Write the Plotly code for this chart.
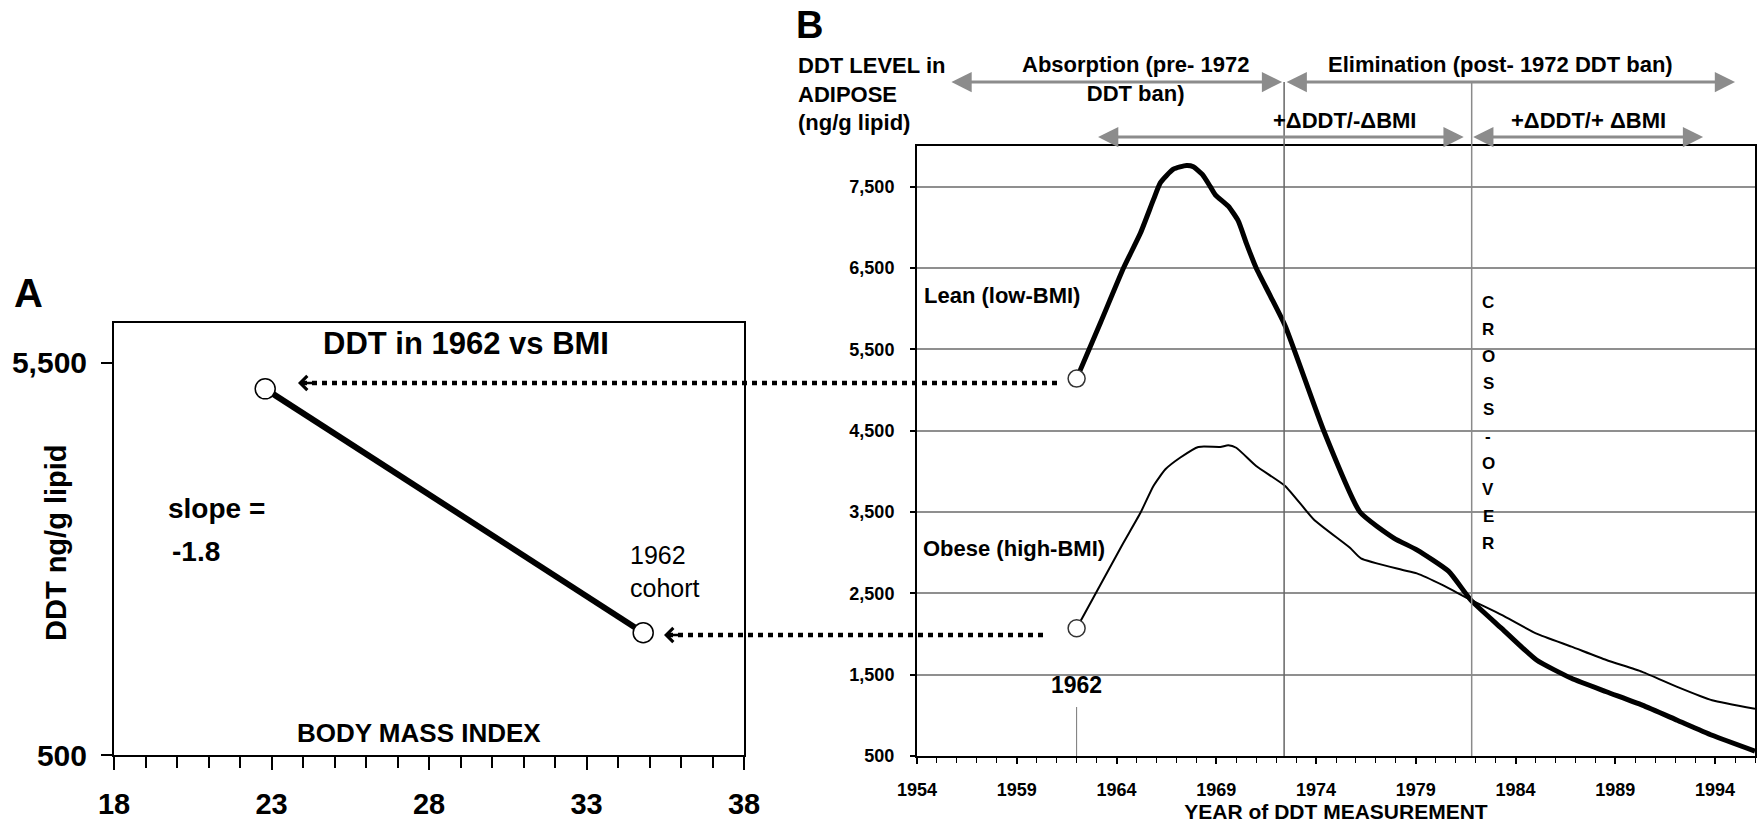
import plotly.graph_objects as go

W, H = 1760, 825
FONT = "Liberation Sans, Arial, Helvetica, sans-serif"

# ---- Panel A: DDT measured in 1962 against body mass index ----
bmi_1962 = [22.8, 34.8]
ddt_1962 = [5170, 2060]
bmi_ticks = [18, 23, 28, 33, 38]
ddt_a_ticks = [500, 5500]
ddt_a_labels = ["500", "5,500"]

# ---- Panel B: DDT level in adipose tissue by year of measurement ----
lean_year = [1962.0, 1963.2, 1964.35, 1965.2, 1965.85, 1966.2, 1966.85, 1967.5,
             1967.85, 1968.3, 1968.7, 1968.95, 1969.6, 1970.1, 1970.5, 1971.0,
             1971.7, 1972.45, 1974.4, 1976.2, 1977.9, 1979.05, 1980.65, 1981.75,
             1983.3, 1985.05, 1986.8, 1988.55, 1990.35, 1992.1, 1993.85, 1996.0]
lean_ddt = [5140, 5830, 6500, 6930, 7340, 7550, 7715, 7760,
            7745, 7650, 7500, 7400, 7260, 7080, 6810, 6500,
            6160, 5790, 4490, 3500, 3180, 3035, 2770, 2420,
            2070, 1680, 1455, 1290, 1125, 940, 755, 560]

obese_year = [1962.0, 1964.25, 1965.2, 1965.85, 1966.45, 1967.2, 1968.1,
              1969.2, 1969.6, 1970.0, 1971.0, 1972.45, 1973.9, 1975.7, 1976.25,
              1978.3, 1979.05, 1980.35, 1981.75, 1983.3, 1985.05, 1986.8, 1988.55,
              1990.35, 1992.1, 1993.85, 1996.0]
obese_ddt = [2070, 3080, 3490, 3820, 4025, 4170, 4300,
             4300, 4320, 4290, 4065, 3820, 3405, 3060, 2930,
             2790, 2745, 2600, 2420, 2235, 2005, 1845, 1680,
             1535, 1350, 1185, 1080]

year_ticks = [1954, 1959, 1964, 1969, 1974, 1979, 1984, 1989, 1994]
ddt_b_ticks = [500, 1500, 2500, 3500, 4500, 5500, 6500, 7500]
ddt_b_labels = ["500", "1,500", "2,500", "3,500", "4,500", "5,500", "6,500", "7,500"]

ban_year = 1972.4          # 1972 DDT ban
crossover_year = 1981.8    # lean and obese curves cross
cohort_year = 1962

# phase arrows above panel B (start year, end year)
absorption_span = (1955.65, 1972.3)
elimination_span = (1972.45, 1995.0)
neg_bmi_span = (1963.0, 1981.4)
pos_bmi_span = (1981.8, 1993.4)


def px(x):
    return x / W


def py(y):
    return 1 - y / H


def bold(size, color="black"):
    return dict(family=FONT, size=size, color=color, weight="bold")


fig = go.Figure()

# panel A line with open end points
fig.add_trace(go.Scatter(
    x=bmi_1962, y=ddt_1962, mode="lines+markers", xaxis="x", yaxis="y",
    line=dict(color="black", width=6),
    marker=dict(symbol="circle", size=20, color="white",
                line=dict(color="black", width=1.5)),
    showlegend=False, hoverinfo="skip"))

# panel B curves
fig.add_trace(go.Scatter(
    x=lean_year, y=lean_ddt, mode="lines", xaxis="x2", yaxis="y2",
    line=dict(color="black", width=5, shape="spline", smoothing=0.5),
    showlegend=False, hoverinfo="skip"))
fig.add_trace(go.Scatter(
    x=obese_year, y=obese_ddt, mode="lines", xaxis="x2", yaxis="y2",
    line=dict(color="black", width=2, shape="spline", smoothing=0.5),
    showlegend=False, hoverinfo="skip"))
fig.add_trace(go.Scatter(
    x=[lean_year[0], obese_year[0]], y=[lean_ddt[0], obese_ddt[0]],
    mode="markers", xaxis="x2", yaxis="y2",
    marker=dict(symbol="circle", size=17, color="white",
                line=dict(color="#333", width=1.5)),
    showlegend=False, hoverinfo="skip"))

axis_common = dict(showline=True, linecolor="black", linewidth=2, mirror=True,
                   showgrid=False, zeroline=False, automargin=False,
                   ticks="outside", tickcolor="black")

fig.update_layout(
    width=W, height=H, template="none",
    margin=dict(l=0, r=0, t=0, b=0),
    paper_bgcolor="white", plot_bgcolor="white",
    font=dict(family=FONT, color="black"),
    xaxis=dict(axis_common, domain=[px(114), px(744)], range=[18, 38],
               anchor="y", tickmode="array", tickvals=bmi_ticks,
               ticklen=13, tickwidth=2, tickfont=bold(29), ticklabelstandoff=9,
               minor=dict(tickmode="linear", tick0=18, dtick=1, ticks="outside",
                          ticklen=11, tickwidth=1.5, tickcolor="black")),
    yaxis=dict(axis_common, domain=[py(755), py(323)], range=[500, 6010],
               anchor="x", tickmode="array", tickvals=ddt_a_ticks,
               ticktext=ddt_a_labels, ticklen=11, tickwidth=2,
               tickfont=bold(30), ticklabelstandoff=8),
    xaxis2=dict(axis_common, domain=[px(917), px(1755)], range=[1954, 1996],
                anchor="y2", tickmode="array", tickvals=year_ticks,
                ticklen=6, tickwidth=1.5, tickfont=bold(18), ticklabelstandoff=10,
                minor=dict(tickmode="linear", tick0=1954, dtick=1, ticks="outside",
                           ticklen=5, tickwidth=1.2, tickcolor="black"),
                title=dict(text="YEAR of DDT MEASUREMENT", font=bold(21), standoff=6)),
    yaxis2=dict(axis_common, domain=[py(756), py(146)], range=[500, 8000],
                anchor="x2", tickmode="array", tickvals=ddt_b_ticks,
                ticktext=ddt_b_labels, showgrid=True, gridcolor="#8f8f8f",
                gridwidth=2, ticklen=5, tickwidth=1.5, tickfont=bold(18),
                ticklabelstandoff=12),
)

shapes = []
# darker gridlines in panel B
for level in (4500, 6500):
    shapes.append(dict(type="line", xref="x2 domain", yref="y2", x0=0, x1=1,
                       y0=level, y1=level, layer="below",
                       line=dict(color="#1a1a1a", width=1.5)))
# ban and crossover verticals
shapes.append(dict(type="line", xref="x2", yref="paper", x0=ban_year, x1=ban_year,
                   y0=py(756), y1=py(82), line=dict(color="#666", width=1.5)))
shapes.append(dict(type="line", xref="x2", yref="paper", x0=crossover_year,
                   x1=crossover_year, y0=py(756), y1=py(82),
                   line=dict(color="#8a8a8a", width=1.5)))
# 1962 cohort marker
shapes.append(dict(type="line", xref="x2", yref="paper", x0=cohort_year,
                   x1=cohort_year, y0=py(756), y1=py(707),
                   line=dict(color="#777", width=1)))
# dotted connectors from panel B start points back to panel A
for x0, x1, y in ((302, 1060, 383), (668, 1044, 635)):
    shapes.append(dict(type="line", xref="paper", yref="paper", x0=px(x0), x1=px(x1),
                       y0=py(y), y1=py(y),
                       line=dict(color="black", width=4.5, dash="5px,5px")))
fig.update_layout(shapes=shapes)

ann = []


def text(t, x, y, size, xanchor="center", yanchor="middle", weight="bold",
         align="center", angle=0):
    ann.append(dict(text=t, x=px(x), y=py(y), xref="paper", yref="paper",
                    xanchor=xanchor, yanchor=yanchor, showarrow=False, align=align,
                    textangle=angle,
                    font=dict(family=FONT, size=size, color="black", weight=weight)))


# panel labels and panel A text
text("A", 12, 293, 40, xanchor="left")
text("B", 794, 25, 38, xanchor="left")
text("DDT in 1962 vs BMI", 466, 343, 31)
text("DDT ng/g lipid", 56, 542, 29, angle=-90)
text("slope =", 166, 508, 28, xanchor="left")
text("-1.8", 170, 551, 28, xanchor="left")
text("1962<br>cohort", 628, 571, 25, xanchor="left", align="left", weight="normal")
text("BODY MASS INDEX", 419, 733, 26)

# panel B header text
text("DDT LEVEL in<br>ADIPOSE<br>(ng/g lipid)", 796, 94, 22, xanchor="left", align="left")
text("Absorption (pre- 1972<br>DDT ban)", 1135, 79, 22)
text("Elimination (post- 1972 DDT ban)", 1500, 64, 22)
text("+ΔDDT/-ΔBMI", 1344, 120, 22)
text("+ΔDDT/+ ΔBMI", 1588, 120, 22)
text("Lean (low-BMI)", 922, 295, 22, xanchor="left")
text("Obese (high-BMI)", 921, 548, 22, xanchor="left")
text("1962", 1076, 685, 23)
for i, ch in enumerate("CROSS-OVER"):
    text(ch, 1488, 303 + i * 26.7, 17)

# grey double-headed phase arrows
for (start, end), ypix in ((absorption_span, 82), (elimination_span, 82),
                           (neg_bmi_span, 137), (pos_bmi_span, 137)):
    ann.append(dict(text="", x=end, y=py(ypix), xref="x2", yref="paper",
                    ax=start, axref="x2", ay=0, ayref="pixel", showarrow=True,
                    arrowside="end+start", arrowhead=2, startarrowhead=2,
                    arrowsize=1.35, startarrowsize=1.35, arrowwidth=3,
                    arrowcolor="#8c8c8c", standoff=0, startstandoff=0))

# heads of the dotted connectors
for tip, ypix in ((298, 383), (664, 635)):
    ann.append(dict(text="", x=px(tip), y=py(ypix), xref="paper", yref="paper",
                    ax=16, ay=0, axref="pixel", ayref="pixel", showarrow=True,
                    arrowhead=4, arrowsize=1.1, arrowwidth=2.5, arrowcolor="black",
                    standoff=0))

fig.update_layout(annotations=ann)

fig.write_html("out.html")
